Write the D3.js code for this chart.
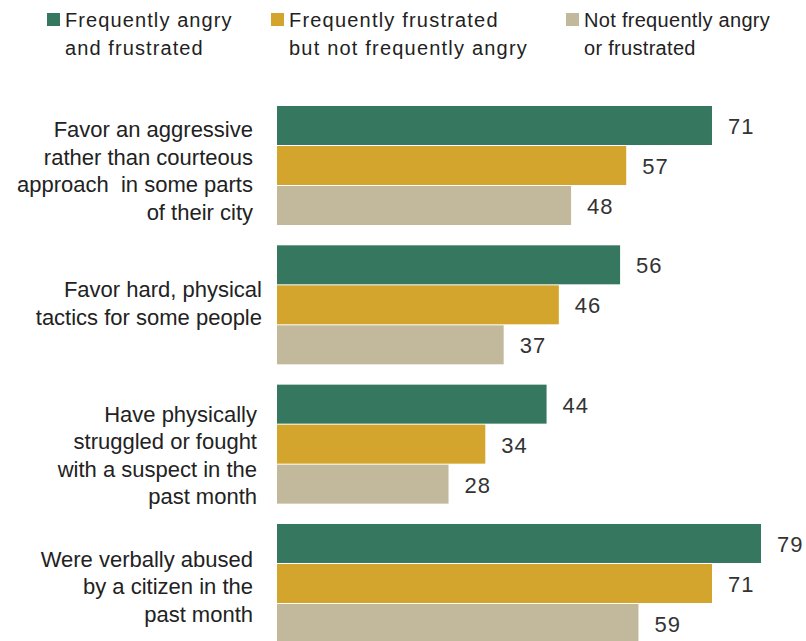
<!DOCTYPE html>
<html><head><meta charset="utf-8">
<script src="https://cdn.jsdelivr.net/npm/d3@7"></script>
<style>body{margin:0;background:#fff;} svg{display:block;}</style>
</head><body>
<svg id="c" width="806" height="641"></svg>
<script>
const categories = [
  ["Favor an aggressive","rather than courteous","approach  in some parts","of their city"],
  ["Favor hard, physical","tactics for some people"],
  ["Have physically","struggled or fought","with a suspect in the","past month"],
  ["Were verbally abused","by a citizen in the","past month"]
];
const seriesNames = [
  ["Frequently angry","and frustrated"],
  ["Frequently frustrated","but not frequently angry"],
  ["Not frequently angry","or frustrated"]
];
const angryFrustrated = [71,56,44,79];
const frustratedOnly = [57,46,34,71];
const neither = [48,37,28,59];
const colors = ["#36775f","#d3a52d","#c2b99c"];

const series = [angryFrustrated, frustratedOnly, neither];
const svg = d3.select("#c");
const font = "'Liberation Sans',Arial,sans-serif";

// layout
const labelRight = [253,262,257,253];
const labelFirst = [31,52,37,43];
const lh = 27.5;
const legSpacing = [1.1,1.2,0.3];

const x = d3.scaleLinear().domain([0,79]).range([277,761]);
const y = d3.scaleBand().domain(d3.range(categories.length)).range([106,663.3]).paddingInner(0);
const inner = d3.scaleBand().domain(d3.range(3)).range([0,120]);

const g = svg.append("g");
categories.forEach((cat,i)=>{
  const gy = y(i);
  series.forEach((s,k)=>{
    g.append("rect")
      .attr("x",x(0)).attr("y",gy+inner(k))
      .attr("width",x(s[i])-x(0)).attr("height",inner.bandwidth()-1)
      .attr("fill",colors[k]);
    g.append("text")
      .attr("x",x(s[i])+16).attr("y",gy+inner(k)+inner.bandwidth()/2+8)
      .attr("font-family",font).attr("letter-spacing",1)
      .attr("font-size",22).attr("fill","#333").text(s[i]);
  });
  cat.forEach((line,j)=>{
    g.append("text").attr("x",labelRight[i]).attr("y",gy+labelFirst[i]+j*lh)
      .attr("text-anchor","end").attr("font-family",font)
      .attr("font-size",22).attr("fill","#222").attr("xml:space","preserve").text(line);
  });
});

const legX = [47,271,566];
seriesNames.forEach((nm,k)=>{
  svg.append("rect").attr("x",legX[k]).attr("y",13).attr("width",13).attr("height",13).attr("fill",colors[k]);
  nm.forEach((line,j)=>{
    svg.append("text").attr("x",legX[k]+18).attr("y",27+j*27.5)
      .attr("font-family",font).attr("font-size",20).attr("letter-spacing",legSpacing[k])
      .attr("fill","#222").text(line);
  });
});
</script>
</body></html>
